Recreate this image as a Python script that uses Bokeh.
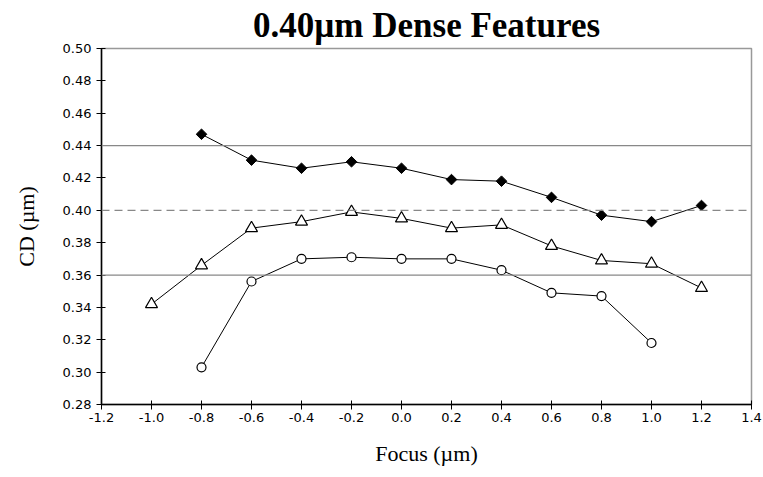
import math
from bokeh.plotting import figure
from bokeh.models import Span, FixedTicker, NumeralTickFormatter, Range1d
from bokeh.embed import file_html
from bokeh.resources import INLINE

focus_diamond = [-0.8, -0.6, -0.4, -0.2, 0.0, 0.2, 0.4, 0.6, 0.8, 1.0, 1.2]
cd_diamond = [0.447, 0.431, 0.426, 0.430, 0.426, 0.419, 0.418, 0.408, 0.397, 0.393, 0.403]

focus_triangle = [-1.0, -0.8, -0.6, -0.4, -0.2, 0.0, 0.2, 0.4, 0.6, 0.8, 1.0, 1.2]
cd_triangle = [0.342, 0.366, 0.389, 0.393, 0.399, 0.395, 0.389, 0.391, 0.378, 0.369, 0.367, 0.352]

focus_circle = [-0.8, -0.6, -0.4, -0.2, 0.0, 0.2, 0.4, 0.6, 0.8, 1.0]
cd_circle = [0.303, 0.356, 0.370, 0.371, 0.370, 0.370, 0.363, 0.349, 0.347, 0.318]

x_ticks = [-1.2, -1.0, -0.8, -0.6, -0.4, -0.2, 0.0, 0.2, 0.4, 0.6, 0.8, 1.0, 1.2, 1.4]
y_ticks = [0.28, 0.30, 0.32, 0.34, 0.36, 0.38, 0.40, 0.42, 0.44, 0.46, 0.48, 0.50]
limit_lines = [0.36, 0.44]
target_line = 0.40

p = figure(width=763, height=477, output_backend="svg", toolbar_location=None,
           x_range=Range1d(-1.2, 1.4), y_range=Range1d(0.28, 0.50),
           min_border_left=101, min_border_right=12, min_border_top=48, min_border_bottom=73)

p.title.text = "0.40\u00b5m Dense Features"
p.title.align = "center"
p.title.text_font = "Liberation Serif"
p.title.text_font_size = "35px"
p.title.text_font_style = "bold"
p.title.text_color = "black"
p.title.offset = 3
p.title.standoff = 7

p.xgrid.visible = False
p.ygrid.visible = False
p.outline_line_color = "#999999"
p.outline_line_width = 1.5

for v in limit_lines:
    p.add_layout(Span(location=v, dimension="width", line_color="#888888", line_width=1.2))
p.add_layout(Span(location=target_line, dimension="width", line_color="#888888",
                  line_width=1.2, line_dash="8 5"))

p.line(focus_diamond, cd_diamond, line_color="black", line_width=1)
p.scatter(focus_diamond, cd_diamond, marker="square", size=7.5, angle=math.pi / 4,
          fill_color="black", line_color="black")

p.line(focus_triangle, cd_triangle, line_color="black", line_width=1)
p.scatter(focus_triangle, cd_triangle, marker="triangle", size=12, fill_color="white",
          line_color="black", line_width=1.2)

p.line(focus_circle, cd_circle, line_color="black", line_width=1)
p.scatter(focus_circle, cd_circle, marker="circle", size=9, fill_color="white",
          line_color="black", line_width=1.2)

for ax in (p.xaxis, p.yaxis):
    ax.axis_line_color = "black"
    ax.axis_line_width = 1.5
    ax.major_tick_line_color = "black"
    ax.minor_tick_line_color = None
    ax.major_tick_in = 4
    ax.major_tick_out = 5
    ax.major_label_text_font = "DejaVu Sans"
    ax.major_label_text_font_size = "13px"
    ax.major_label_text_color = "black"
    ax.axis_label_text_font = "Liberation Serif"
    ax.axis_label_text_font_size = "22px"
    ax.axis_label_text_font_style = "normal"
    ax.axis_label_text_color = "black"

p.xaxis.ticker = FixedTicker(ticks=x_ticks)
p.yaxis.ticker = FixedTicker(ticks=y_ticks)
p.xaxis.formatter = NumeralTickFormatter(format="0.0")
p.yaxis.formatter = NumeralTickFormatter(format="0.00")
p.xaxis.axis_label = "Focus (\u00b5m)"
p.yaxis.axis_label = "CD (\u00b5m)"
p.xaxis.major_label_standoff = 3
p.xaxis.axis_label_standoff = 16
p.yaxis.major_label_standoff = 5
p.yaxis.axis_label_standoff = 21

open("out.html", "w").write(file_html(p, INLINE))
